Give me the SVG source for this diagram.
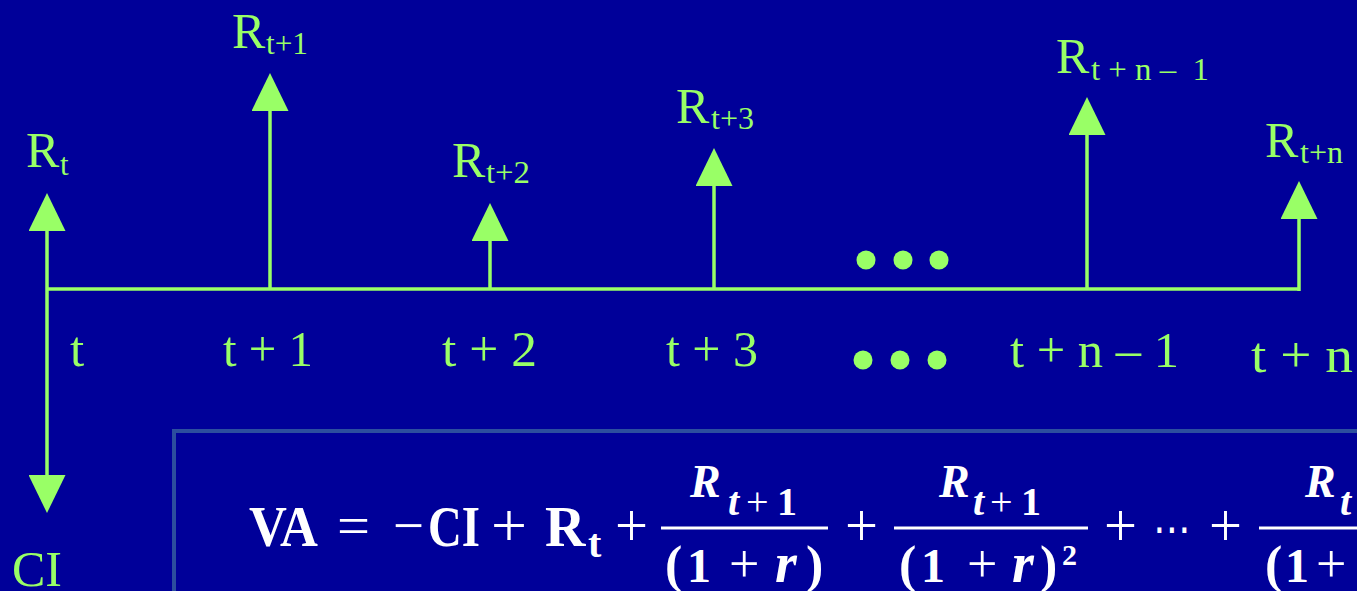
<svg xmlns="http://www.w3.org/2000/svg" width="1357" height="591" viewBox="0 0 1357 591">
<style>
.g{fill:#99FF66;font-family:"Liberation Serif","Times New Roman",serif}
.big{font-size:50px}
.sub{font-size:31px}
.lab{font-size:51px}
.ax{stroke:#99FF66;stroke-width:3.5;fill:none}
.f{fill:#FFFFFF;font-family:"Liberation Serif","Times New Roman",serif;font-weight:bold}
.op{fill:#FFFFFF;font-family:"Liberation Serif","Times New Roman",serif;font-weight:normal}
.m{font-size:56px}
.it{font-style:italic}
.nr{font-weight:normal}
.bar{fill:#FFFFFF}
</style>
<defs>
<marker id="ah" markerUnits="userSpaceOnUse" viewBox="0 0 38 37" markerWidth="38" markerHeight="37" refX="0" refY="18.5" orient="auto">
<path d="M0,0 L38,18.5 L0,37 Z" fill="#99FF66"/>
</marker>
</defs>
<rect x="0" y="0" width="1357" height="591" fill="#000099"/>

<g id="connectors">
<line class="ax" x1="47" y1="289" x2="1300" y2="289"/>
<line class="ax" x1="47" y1="289" x2="47" y2="231" marker-end="url(#ah)"/>
<line class="ax" x1="47" y1="289" x2="47" y2="475" marker-end="url(#ah)"/>
<line class="ax" x1="270" y1="289" x2="270" y2="111" marker-end="url(#ah)"/>
<line class="ax" x1="490" y1="289" x2="490" y2="241" marker-end="url(#ah)"/>
<line class="ax" x1="714" y1="289" x2="714" y2="186" marker-end="url(#ah)"/>
<line class="ax" x1="1087" y1="289" x2="1087" y2="135" marker-end="url(#ah)"/>
<line class="ax" x1="1299" y1="291" x2="1299" y2="219" marker-end="url(#ah)"/>
</g>

<g id="node-t">
<text class="g big" x="26" y="167">R</text>
<text class="g sub" x="60" y="175">t</text>
<text class="g lab" x="70" y="366">t</text>
</g>
<g id="node-ci">
<text class="g" x="12" y="586" font-size="50">CI</text>
</g>
<g id="node-t1">
<text class="g big" x="232" y="48">R</text>
<text class="g sub" x="266" y="54" textLength="42" lengthAdjust="spacingAndGlyphs">t+1</text>
<text class="g lab" x="223" y="366" textLength="90" lengthAdjust="spacingAndGlyphs">t + 1</text>
</g>
<g id="node-t2">
<text class="g big" x="452" y="177">R</text>
<text class="g sub" x="486" y="183" textLength="44" lengthAdjust="spacingAndGlyphs">t+2</text>
<text class="g lab" x="442" y="366" textLength="95" lengthAdjust="spacingAndGlyphs">t + 2</text>
</g>
<g id="node-t3">
<text class="g big" x="676" y="123">R</text>
<text class="g sub" x="711" y="129" textLength="43" lengthAdjust="spacingAndGlyphs">t+3</text>
<text class="g lab" x="666" y="366" textLength="92" lengthAdjust="spacingAndGlyphs">t + 3</text>
</g>
<g id="node-dots">
<circle cx="866" cy="260" r="9.5" fill="#99FF66"/>
<circle cx="903" cy="260" r="9.5" fill="#99FF66"/>
<circle cx="939" cy="260" r="9.5" fill="#99FF66"/>
<circle cx="863" cy="360" r="9.5" fill="#99FF66"/>
<circle cx="900" cy="360" r="9.5" fill="#99FF66"/>
<circle cx="937" cy="360" r="9.5" fill="#99FF66"/>
</g>
<g id="node-tn1">
<text class="g big" x="1056" y="73">R</text>
<text class="g sub" x="1091" y="80" textLength="118" lengthAdjust="spacingAndGlyphs" xml:space="preserve">t + n –  1</text>
<text class="g lab" x="1010" y="367" textLength="169" lengthAdjust="spacingAndGlyphs">t + n – 1</text>
</g>
<g id="node-tn">
<text class="g big" x="1265" y="157">R</text>
<text class="g sub" x="1300" y="163" textLength="43" lengthAdjust="spacingAndGlyphs">t+n</text>
<text class="g lab" x="1251" y="372" textLength="102" lengthAdjust="spacingAndGlyphs">t + n</text>
</g>

<g id="formula">
<rect x="174" y="431" width="1300" height="300" fill="none" stroke="#2C4E9E" stroke-width="4"/>
<text class="f m" x="249" y="546" textLength="69" lengthAdjust="spacingAndGlyphs">VA</text>
<text class="op" x="337" y="545" font-size="58" textLength="33" lengthAdjust="spacingAndGlyphs">=</text>
<text class="op" x="393" y="545" font-size="58" textLength="31" lengthAdjust="spacingAndGlyphs">−</text>
<text class="f m" x="428" y="546" textLength="52" lengthAdjust="spacingAndGlyphs">CI</text>
<text class="op" x="491" y="546" font-size="62" textLength="36" lengthAdjust="spacingAndGlyphs">+</text>
<text class="f m" x="545" y="546">R</text>
<text class="f" x="588" y="557" font-size="40">t</text>
<text class="op" x="615" y="546" font-size="62" textLength="33" lengthAdjust="spacingAndGlyphs">+</text>
<rect class="bar" x="661" y="526.5" width="167" height="3"/>
<text class="f it" x="690" y="497" font-size="46">R</text>
<text class="f" y="515" font-size="40"><tspan class="it" x="728">t</tspan><tspan class="nr" x="746">+</tspan><tspan x="777">1</tspan></text>
<text class="f" y="582" font-size="48"><tspan x="665" font-size="52">(</tspan><tspan x="687">1</tspan><tspan class="nr" x="729" font-size="54">+</tspan><tspan class="it" x="775" font-size="56">r</tspan><tspan x="806" font-size="52">)</tspan></text>
<text class="op" x="845" y="546" font-size="62" textLength="33" lengthAdjust="spacingAndGlyphs">+</text>
<rect class="bar" x="894" y="526.5" width="194" height="3"/>
<text class="f it" x="939" y="497" font-size="46">R</text>
<text class="f" y="515" font-size="40"><tspan class="it" x="973">t</tspan><tspan class="nr" x="990">+</tspan><tspan x="1021">1</tspan></text>
<text class="f" y="582" font-size="48"><tspan x="899" font-size="52">(</tspan><tspan x="921">1</tspan><tspan class="nr" x="967" font-size="54">+</tspan><tspan class="it" x="1012" font-size="56">r</tspan><tspan x="1040" font-size="52">)</tspan></text>
<text class="f" x="1062" y="565" font-size="30">2</text>
<text class="op" x="1104" y="546" font-size="62" textLength="33" lengthAdjust="spacingAndGlyphs">+</text>
<text x="1153" y="544" font-family="DejaVu Sans, sans-serif" font-size="44" fill="#FFFFFF" textLength="38" lengthAdjust="spacingAndGlyphs">⋯</text>
<text class="op" x="1209" y="546" font-size="62" textLength="33" lengthAdjust="spacingAndGlyphs">+</text>
<rect class="bar" x="1259" y="526.5" width="110" height="3"/>
<text class="f it" x="1305" y="497" font-size="46">R</text>
<text class="f it" x="1340" y="515" font-size="40">t</text>
<text class="f" y="582" font-size="48"><tspan x="1265" font-size="52">(</tspan><tspan x="1285">1</tspan><tspan class="nr" x="1316" font-size="54">+</tspan></text>
</g>
</svg>
